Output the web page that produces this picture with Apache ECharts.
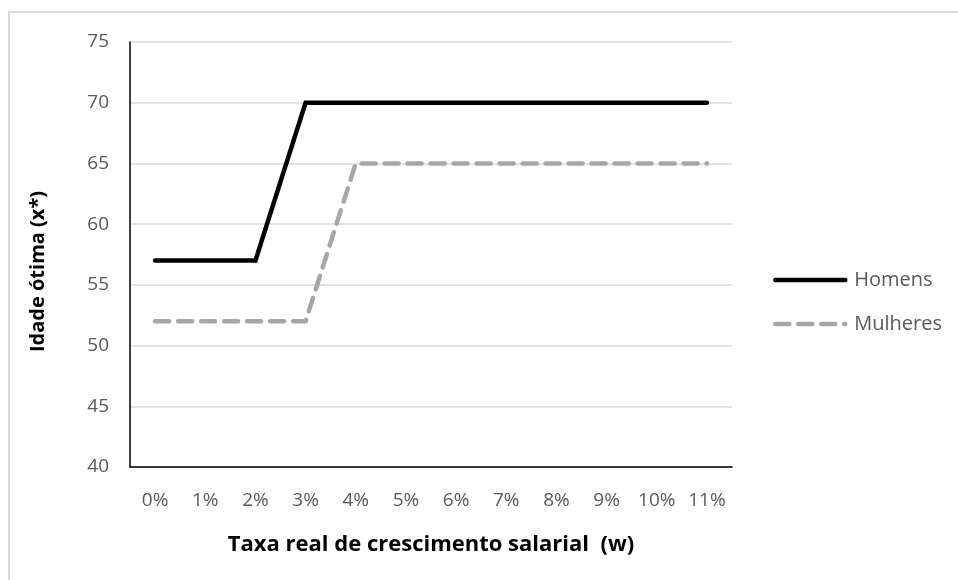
<!DOCTYPE html>
<html>
<head>
<meta charset="utf-8">
<script src="https://cdn.jsdelivr.net/npm/echarts@6/dist/echarts.min.js"></script>
<style>
  html, body { margin: 0; padding: 0; background: #fff; }
  #chart { width: 958px; height: 580px; }
</style>
</head>
<body>
<div id="chart"></div>
<script>
// Taxa real de crescimento salarial (w)
const categories = ['0%', '1%', '2%', '3%', '4%', '5%', '6%', '7%', '8%', '9%', '10%', '11%'];
// Idade ótima (x*) por sexo
const homens = [57, 57, 57, 70, 70, 70, 70, 70, 70, 70, 70, 70];
const mulheres = [52, 52, 52, 52, 65, 65, 65, 65, 65, 65, 65, 65];
const yTicks = { min: 40, max: 75, interval: 5 };

const FONT = 'Open Sans';
const chart = echarts.init(document.getElementById('chart'), null, { renderer: 'canvas' });

chart.setOption({
  animation: false,
  backgroundColor: '#ffffff',
  textStyle: { fontFamily: FONT },
  graphic: [{
    type: 'rect',
    shape: { x: 9, y: 12, width: 1000, height: 700 },
    style: { fill: 'none', stroke: '#d9d9d9', lineWidth: 2 },
    silent: true
  }],
  grid: { left: 130, top: 42, width: 602, height: 425, containLabel: false },
  legend: {
    orient: 'vertical',
    left: 773,
    top: 270,
    padding: 0,
    itemWidth: 70,
    itemHeight: 20,
    itemGap: 24,
    itemStyle: { opacity: 0 },
    lineStyle: { width: 4.5, cap: 'round' },
    textStyle: { color: '#595959', fontSize: 20, fontFamily: FONT, padding: [0, 0, 0, 4] },
    data: ['Homens', 'Mulheres']
  },
  xAxis: {
    type: 'category',
    data: categories,
    boundaryGap: true,
    name: 'Taxa real de crescimento salarial  (w)',
    nameLocation: 'middle',
    nameGap: 67,
    nameTextStyle: { color: '#000', fontSize: 22, fontWeight: 'bold', fontFamily: FONT },
    axisLine: { lineStyle: { color: '#000', width: 1.5 } },
    axisTick: { show: false },
    axisLabel: { color: '#595959', fontSize: 19, margin: 24, fontFamily: FONT },
    splitLine: { show: false }
  },
  yAxis: {
    type: 'value',
    min: yTicks.min,
    max: yTicks.max,
    interval: yTicks.interval,
    name: 'Idade ótima (x*)',
    nameLocation: 'middle',
    nameGap: 82,
    nameTextStyle: { color: '#000', fontSize: 20, fontWeight: 'bold', fontFamily: FONT, padding: [0, 34, 0, 0] },
    axisLine: { show: true, lineStyle: { color: '#000', width: 1.5 } },
    axisTick: { show: false },
    axisLabel: { color: '#595959', fontSize: 19, margin: 21, fontFamily: FONT },
    splitLine: { show: true, lineStyle: { color: '#d9d9d9', width: 1.5 } }
  },
  series: [
    {
      name: 'Homens',
      type: 'line',
      data: homens,
      symbol: 'none',
      lineStyle: { color: '#000000', width: 4.5, cap: 'round', join: 'miter' },
      itemStyle: { color: '#000000' }
    },
    {
      name: 'Mulheres',
      type: 'line',
      data: mulheres,
      symbol: 'none',
      lineStyle: { color: '#a6a6a6', width: 4.5, type: [14, 9], cap: 'round', join: 'miter' },
      itemStyle: { color: '#a6a6a6' }
    }
  ]
});
</script>
</body>
</html>
